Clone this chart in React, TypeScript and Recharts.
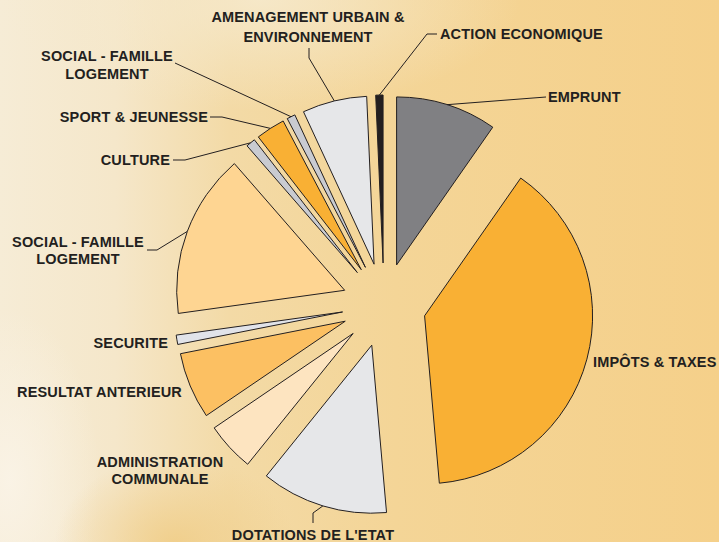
import React from 'react';
import { PieChart, Pie, Cell, Sector } from 'recharts';

// budget slices, clockwise from 12 o'clock (percent of total)
const categories = [
    'EMPRUNT',
    'IMPÔTS & TAXES',
    "DOTATIONS DE L'ETAT",
    'ADMINISTRATION COMMUNALE',
    'RESULTAT ANTERIEUR',
    'SECURITE',
    'SOCIAL - FAMILLE LOGEMENT',
    'CULTURE',
    'SPORT & JEUNESSE',
    'SOCIAL - FAMILLE LOGEMENT ',
    'AMENAGEMENT URBAIN & ENVIRONNEMENT',
    'ACTION ECONOMIQUE',
];
const values = [9.7, 38.9, 12.2, 4.7, 6.4, 0.9, 15.8, 0.9, 2.8, 0.8, 6.2, 0.7];
const colors = [
    '#808083', '#f9b034', '#e6e7e9', '#fde4c0', '#fcc062', '#e1e3e9',
    '#fed592', '#c9cbd1', '#f9b034', '#c9cbd1', '#e6e7e9', '#231f20',
];

// label text lines, as printed
const labelLines = [
    ['EMPRUNT'],
    ['IMPÔTS & TAXES'],
    ["DOTATIONS DE L'ETAT"],
    ['ADMINISTRATION', 'COMMUNALE'],
    ['RESULTAT ANTERIEUR'],
    ['SECURITE'],
    ['SOCIAL - FAMILLE', 'LOGEMENT'],
    ['CULTURE'],
    ['SPORT & JEUNESSE'],
    ['SOCIAL - FAMILLE', 'LOGEMENT'],
    ['AMENAGEMENT URBAIN &', 'ENVIRONNEMENT'],
    ['ACTION ECONOMIQUE'],
];

const data = categories.map((name, i) => ({ name, value: values[i] }));

const W = 719;
const H = 542;
const CX = 384;
const CY = 305;
const R = 168;
const EXPLODE = 42;
const RAD = Math.PI / 180;
const INK = '#231f20';

// hand placed labels (like the print): first baseline, alignment, line gap,
// and the leader's bends going from the slice edge towards the text
type Lay = { x: number; y: number; anchor: 'start' | 'middle' | 'end'; gap?: number; leader?: number[][] };
const labelLayout: Lay[] = [
    { x: 548, y: 102, anchor: 'start', leader: [[546, 97]] },
    { x: 593, y: 367, anchor: 'start' },
    { x: 313, y: 540, anchor: 'middle', leader: [[313, 513], [313, 523]] },
    { x: 160, y: 467, anchor: 'middle', gap: 17 },
    { x: 182, y: 397, anchor: 'end' },
    { x: 168, y: 348, anchor: 'end' },
    { x: 78, y: 247, anchor: 'middle', gap: 17, leader: [[157, 250], [147, 250]] },
    { x: 170, y: 165, anchor: 'end', leader: [[185, 160], [173, 160]] },
    { x: 208, y: 122, anchor: 'end', leader: [[222, 117], [210, 117]] },
    { x: 107, y: 61, anchor: 'middle', gap: 17.5, leader: [[175, 63]] },
    { x: 308, y: 22, anchor: 'middle', gap: 20, leader: [[309, 58], [309, 48]] },
    { x: 440, y: 39, anchor: 'start', leader: [[427, 34], [437, 34]] },
];

const explodedShape = (props: any) => {
    const { cx, cy, innerRadius, outerRadius, startAngle, endAngle, fill } = props;
    const mid = (startAngle + endAngle) / 2;
    const dx = EXPLODE * Math.cos(-mid * RAD);
    const dy = EXPLODE * Math.sin(-mid * RAD);
    return (
        <Sector
            cx={cx + dx}
            cy={cy + dy}
            innerRadius={innerRadius}
            outerRadius={outerRadius}
            startAngle={startAngle}
            endAngle={endAngle}
            fill={fill}
            stroke={INK}
            strokeWidth={1}
        />
    );
};

const renderLabel = (props: any) => {
    const { cx, cy, midAngle, outerRadius, index } = props;
    const lay = labelLayout[index];
    const lines = labelLines[index];
    let leader = null;
    if (lay.leader) {
        const r = outerRadius + EXPLODE;
        const px = cx + r * Math.cos(-midAngle * RAD);
        const py = cy + r * Math.sin(-midAngle * RAD);
        const pts = [[px, py], ...lay.leader].map((p) => p.join(',')).join(' ');
        leader = <polyline points={pts} fill="none" stroke={INK} strokeWidth={1} />;
    }
    return (
        <g key={`lbl-${index}`}>
            {leader}
            <text
                x={lay.x}
                y={lay.y}
                textAnchor={lay.anchor}
                fill={INK}
                fontFamily="'Liberation Sans', Arial, sans-serif"
                fontWeight="bold"
                fontSize={14.5}
                letterSpacing={0.15}
            >
                {lines.map((l, j) => (
                    <tspan key={j} x={lay.x} dy={j === 0 ? 0 : lay.gap ?? 17}>{l}</tspan>
                ))}
            </text>
        </g>
    );
};

// parchment-like backdrop: pale on the left and top, tan elsewhere
const backdrop = [
    'radial-gradient(ellipse 120px 90px at 175px 545px, rgba(240,205,135,0.9), rgba(240,205,135,0) 100%)',
    'radial-gradient(ellipse 260px 110px at 260px 0px, rgba(246,234,206,0.85), rgba(246,234,206,0) 100%)',
    'radial-gradient(ellipse 90px 170px at 10px 480px, rgba(250,243,230,0.95), rgba(250,243,230,0) 100%)',
    'linear-gradient(to right, #f6ecd6 0%, #f5e7ca 16%, #f3daa6 32%, #f4d597 55%, #f5d08a 100%)',
].join(',');

export default function App() {
    return (
        <div
            style={{
                position: 'fixed',
                left: 0,
                top: 0,
                width: W,
                height: H,
                overflow: 'hidden',
                background: backdrop,
            }}
        >
            <PieChart width={W} height={H} margin={{ top: 0, right: 0, bottom: 0, left: 0 }}>
                <Pie
                    data={data}
                    dataKey="value"
                    nameKey="name"
                    cx={CX}
                    cy={CY}
                    innerRadius={0}
                    outerRadius={R}
                    startAngle={90}
                    endAngle={-270}
                    paddingAngle={0}
                    stroke={INK}
                    strokeWidth={1}
                    shape={explodedShape}
                    labelLine={false}
                    label={renderLabel}
                    isAnimationActive={false}
                >
                    {data.map((d, i) => (
                        <Cell key={d.name + i} fill={colors[i]} />
                    ))}
                </Pie>
            </PieChart>
        </div>
    );
}
